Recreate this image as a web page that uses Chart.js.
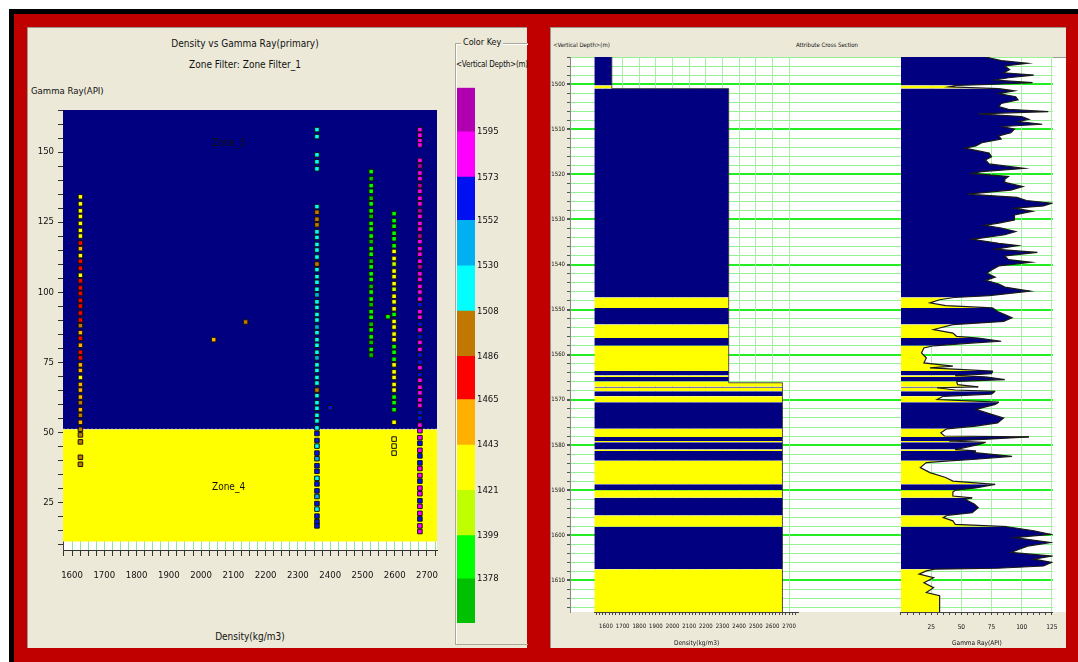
<!DOCTYPE html>
<html>
<head>
<meta charset="utf-8">
<script src="https://cdn.jsdelivr.net/npm/chart.js@4.4.1/dist/chart.umd.min.js"></script>
<style>
  body {
    margin: 0;
    width: 1078px;
    height: 662px;
    background: #fff;
    position: relative;
    overflow: hidden;
    font-family: "DejaVu Sans", sans-serif;
    font-stretch: condensed;
  }
  .frame {
    position: absolute;
    left: 9px; top: 9px; right: 0; bottom: 0;
    background: #c00000;
    border-left: 5px solid #000;
    border-top: 5px solid #000;
  }
  .panel {
    position: absolute;
    top: 27px;
    height: 621px;
    background: #ece9d8;
    box-shadow: inset 1px 1px 0 #9a9888;
  }
  .plotbg { position: absolute; background: #fff; }
  .txt { position: absolute; white-space: nowrap; color: #111; line-height: 1; }
  .keybox {
    position: absolute;
    left: 455px; top: 43px; width: 72px; height: 600px;
    border: 1px solid #aca899; border-right: none;
    box-shadow: inset 1px 1px 0 #fff;
  }
  canvas { position: absolute; }
</style>
</head>
<body>
  <div class="frame"></div>
  <div class="panel" style="left:27px; width:500px;"></div>
  <div class="panel" style="left:550px; width:516px;"></div>

  <!-- left crossplot -->
  <div class="plotbg" style="left:63px; top:110px; width:374px; height:440px;"></div>
  <div class="txt" style="left:145px; width:200px; text-align:center; top:39px; font-size:10px;">Density vs Gamma Ray(primary)</div>
  <div class="txt" style="left:145px; width:200px; text-align:center; top:60px; font-size:10px;">Zone Filter: Zone Filter_1</div>
  <div class="txt" style="left:31px; top:86px; font-size:9.5px;">Gamma Ray(API)</div>
  <div class="txt" style="left:190px; width:120px; text-align:center; top:632px; font-size:10px;">Density(kg/m3)</div>
  <canvas id="cross" width="427" height="620" style="left:28px; top:28px;"></canvas>

  <!-- color key -->
  <div class="keybox"></div>
  <div class="txt" style="left:461px; top:38px; font-size:9px; background:#ece9d8; padding:0 2px;">Color Key</div>
  <div class="txt" style="left:456px; top:61px; font-size:8px; letter-spacing:-0.2px;">&lt;Vertical Depth&gt;(m)</div>
  <canvas id="key" width="70" height="560" style="left:455px; top:80px;"></canvas>

  <!-- right cross section -->
  <div class="plotbg" style="left:570px; top:57px; width:496px; height:555px; box-shadow: inset 1px 1px 0 #999;"></div>
  <div class="txt" style="left:553px; top:42px; font-size:6px;">&lt;Vertical Depth&gt;(m)</div>
  <div class="txt" style="left:767px; width:120px; text-align:center; top:42px; font-size:6px;">Attribute Cross Section</div>
  <canvas id="section" width="516" height="620" style="left:550px; top:28px;"></canvas>

<script>
// ---- color key (vertical depth bins) ----
const keyBounds = [1356.6, 1378, 1399, 1421, 1443, 1465, 1486, 1508, 1530, 1552, 1573, 1595, 1616.4];
const keyLabels = [1378, 1399, 1421, 1443, 1465, 1486, 1508, 1530, 1552, 1573, 1595];
const keyColors = ['#00c000', '#00ff00', '#c0ff00', '#ffff00', '#ffb000', '#ff0000',
                   '#c07800', '#00ffff', '#00b0f0', '#0010f0', '#ff00ff', '#b000b0'];

// ---- crossplot: zones ----
const zoneNames = ['Zone_3', 'Zone_4'];
const zoneTop = [165, 51];
const zoneBase = [51, 10.9];
const zoneColors = ['#000080', '#ffff00'];
const zoneLabelX = [2085, 2085];
const zoneLabelY = [153, 30.4];

// ---- crossplot: point columns (density, gamma ray, color key bin) ----
const columnDensity = [1626, 2359, 2527, 2598, 2678];
const columnGamma = [
  [134, 131.5, 129, 127, 124.5, 122, 120, 117.5, 115.5, 113, 111, 108.5, 106, 104, 101.5, 99.5, 97, 95, 92.5, 90,
   88, 85.5, 83.5, 81, 78.5, 76.5, 74, 72, 69.5, 67, 65, 62.5, 60.5, 58, 56, 53.5, 51, 49, 46.5, 41, 38.5],
  [158, 155.5, 149, 146.5, 144,
   130.5, 128.5, 126, 124, 121.5, 119.5, 117, 115, 112.5, 110, 108, 105.5, 103.5, 101, 99, 96.5, 94.5, 92, 90, 87.5,
   85.5, 83, 81, 78.5, 76.5, 74, 72, 69.5, 67.5, 65, 63, 60.5, 58.5, 56, 54,
   51.5, 49.5, 47, 45, 42.5, 40.5, 38, 36, 33.5, 31.5, 29, 27, 24.5, 22.5, 20, 18, 16.5],
  [143, 140.5, 138, 136, 133.5, 131.5, 129, 127, 124.5, 122.5, 120, 118, 115.5, 113.5, 111, 109, 106.5, 104.5, 102, 100,
   97.5, 95.5, 93, 91, 88.5, 86.5, 84, 82, 79.5, 77.5],
  [128, 125.5, 123.5, 121, 119, 116.5, 114.5, 112, 110, 107.5, 105.5, 103, 101, 98.5, 96.5, 94, 92, 89.5, 87.5, 85,
   83, 80.5, 78.5, 76, 74, 71.5, 69.5, 67, 65, 62.5, 60.5, 58, 53.5, 47.5, 45, 42.5],
  [158, 156, 154, 152.5,
   147, 145, 142.5, 140.5, 138, 136, 133.5, 131.5, 129, 127, 124.5, 122.5, 120, 118, 115.5, 113.5, 111, 109, 106.5, 104.5,
   102, 100, 97.5, 95.5, 93, 91, 88.5, 86.5, 84, 82, 79.5, 77.5, 75, 73, 70.5, 68.5, 66, 64, 61.5, 59.5, 57, 55, 52.5,
   50.5, 48, 46, 43.5, 41.5, 39, 37, 34.5, 32.5, 30, 28, 25.5, 23.5, 21, 19, 16.5, 14.5]
];
const columnKey = [
  [3, 3, 3, 3, 3, 3, 3, 5, 4, 3, 5, 5, 3, 5, 5, 5, 5, 5, 5, 5,
   6, 4, 5, 4, 5, 5, 4, 4, 3, 4, 4, 4, 6, 4, 6, 4, 6, 6, 6, 6, 6],
  [7, 7, 7, 7, 7,
   7, 6, 6, 6, 7, 7, 7, 7, 7, 6, 7, 7, 7, 7, 8, 7, 7, 7, 7, 8,
   7, 7, 7, 7, 8, 7, 7, 7, 7, 6, 7, 7, 7, 7, 7,
   7, 9, 9, 7, 9, 8, 9, 9, 7, 9, 9, 8, 9, 7, 9, 9, 9],
  [1, 0, 1, 1, 0, 1, 1, 0, 1, 1, 1, 0, 1, 1, 0, 1, 1, 1, 0, 1,
   1, 0, 1, 1, 0, 1, 1, 0, 1, 0],
  [1, 1, 1, 1, 1, 1, 3, 3, 2, 3, 3, 3, 2, 3, 3, 3, 1, 3, 3, 3,
   3, 1, 1, 1, 3, 3, 3, 3, 3, 1, 1, 1, 3, 3, 3, 3],
  [10, 10, 10, 10,
   10, 11, 10, 10, 11, 10, 10, 10, 11, 10, 10, 10, 11, 10, 10, 10, 10, 11, 10, 10,
   10, 10, 10, 9, 10, 10, 9, 10, 9, 10, 10, 9, 9, 10, 9, 10, 10, 10, 10, 10, 9, 9, 10,
   10, 10, 9, 10, 9, 9, 10, 10, 9, 10, 10, 9, 10, 10, 9, 10, 10]
];
const singleDensity = [2039, 2138, 2400, 2579];
const singleGamma = [83, 89.3, 58.7, 91.2];
const singleKey = [4, 6, 9, 1];

const crossDensityMin = 1572, crossDensityMax = 2731;
const crossGammaMin = 7.9, crossGammaMax = 165;
const crossDensityLabels = [1600, 1700, 1800, 1900, 2000, 2100, 2200, 2300, 2400, 2500, 2600, 2700];
const crossGammaLabels = [25, 50, 75, 100, 125, 150];

// ---- cross section: gamma ray log ----
const grDepth = [
  1494.0, 1494.8, 1495.4, 1496.0, 1496.8, 1497.5, 1498.0, 1498.6, 1499.1, 1499.7,
  1500.1, 1500.3, 1500.6, 1501.0, 1501.5, 1502.1, 1502.8, 1503.5, 1504.3, 1505.0,
  1505.6, 1506.1, 1506.6, 1507.2, 1507.8, 1508.3, 1508.9, 1509.4, 1510.0, 1510.8,
  1511.5, 1512.2, 1513.0, 1513.7, 1514.2, 1514.8, 1515.3, 1516.1, 1516.8, 1517.7,
  1518.7, 1519.4, 1519.8, 1520.5, 1521.1, 1521.8, 1522.7, 1523.5, 1524.4, 1525.1,
  1525.8, 1526.4, 1527.0, 1527.5, 1528.2, 1529.0, 1530.1, 1530.8, 1531.3, 1531.9,
  1532.7, 1533.4, 1534.4, 1535.3, 1535.8, 1536.6, 1537.3, 1538.1, 1538.9, 1539.5,
  1540.3, 1541.2, 1541.9, 1542.8, 1543.5, 1544.3, 1545.0, 1545.9, 1546.9, 1547.3,
  1547.8, 1548.5, 1549.1, 1549.6, 1550.4, 1551.1, 1551.8, 1552.6, 1553.1, 1553.3,
  1554.4, 1555.2, 1555.9, 1556.3, 1557.0, 1557.4, 1558.0, 1558.5, 1559.6, 1560.7,
  1561.8, 1562.5, 1562.9, 1563.6, 1564.2, 1564.6, 1564.9, 1565.5, 1565.9, 1566.6,
  1567.1, 1567.3, 1567.8, 1568.1, 1568.7, 1569.2, 1569.9, 1570.5, 1571.0, 1572.1,
  1573.2, 1574.0, 1575.1, 1575.8, 1576.4, 1577.3, 1578.0, 1578.2, 1578.8, 1579.1,
  1579.4, 1579.9, 1581.0, 1581.3, 1581.7, 1582.5, 1583.2, 1583.5, 1583.9, 1585.0,
  1586.1, 1587.2, 1588.0, 1588.7, 1589.5, 1590.0, 1590.4, 1591.3, 1591.7, 1592.0,
  1593.1, 1593.9, 1595.0, 1595.6, 1596.1, 1596.8, 1597.6, 1598.1, 1599.0, 1599.8,
  1600.5, 1601.6, 1602.4, 1603.1, 1603.8, 1604.6, 1605.3, 1606.0, 1606.8, 1607.3,
  1607.5, 1607.9, 1608.6, 1609.4, 1610.5, 1611.6, 1612.7, 1613.4, 1617.0
];
const grValue = [
  70, 83, 105, 86, 90, 85, 110, 89, 78, 109,
  73, 46, 40, 81, 94, 81, 95, 97, 83, 81,
  89, 122, 64, 100, 106, 97, 117, 84, 94, 91,
  81, 83, 67, 62, 53, 64, 73, 75, 70, 73,
  102, 67, 59, 89, 86, 86, 101, 91, 55, 96,
  104, 125, 118, 94, 109, 94, 94, 81, 69, 83,
  95, 86, 59, 81, 97, 78, 113, 86, 89, 108,
  81, 75, 71, 78, 70, 81, 86, 107, 73, 44,
  32, 24, 37, 76, 80, 86, 92, 85, 56, 43,
  27, 43, 46, 64, 83, 58, 27, 19, 17, 21,
  19, 43, 24, 76, 75, 45, 70, 86, 46, 47,
  64, 30, 45, 78, 75, 35, 30, 81, 78, 62,
  75, 85, 80, 62, 38, 33, 36, 106, 64, 40,
  70, 64, 45, 62, 61, 92, 59, 40, 21, 16,
  24, 37, 43, 78, 62, 45, 43, 43, 59, 53,
  61, 64, 59, 38, 35, 43, 45, 88, 110, 124,
  94, 124, 105, 98, 91, 125, 110, 125, 118, 80,
  28, 21, 15, 27, 19, 27, 21, 32, 32
];
const shaleCutoff = 50;

// ---- cross section: density track (blocky) ----
const densityTops = [1494, 1501.0, 1566.2];
const densityValues = [1635, 2337, 2660];

const depthMin = 1494, depthMax = 1617;
const depthLabels = [1500, 1510, 1520, 1530, 1540, 1550, 1560, 1570, 1580, 1590, 1600, 1610];
const sectionDensityLabels = [1600, 1700, 1800, 1900, 2000, 2100, 2200, 2300, 2400, 2500, 2600, 2700];
const sectionGammaLabels = [25, 50, 75, 100, 125];

// narrow text like the original software; "condensed" goes into the canvas font string
Chart.defaults.font.family = '"DejaVu Sans", sans-serif';
Chart.defaults.font.weight = 'condensed';
Chart.defaults.color = '#111';

function tickRange(from, to, step) {
  const out = [];
  for (let v = from; v <= to + 1e-6; v += step) out.push({ value: Math.round(v * 10) / 10 });
  return out;
}

// ================= crossplot =================
const crossDatasets = [];
columnDensity.forEach((den, i) => {
  crossDatasets.push({
    data: columnGamma[i].map((g) => ({ x: den, y: g })),
    showLine: false,
    pointStyle: 'rect',
    pointRadius: 3.2,
    pointBackgroundColor: columnGamma[i].map((g, j) => keyColors[columnKey[i][j]] || keyColors[3]),
    pointBorderColor: '#111',
    pointBorderWidth: 1,
    order: 0,
  });
});
crossDatasets.push({
  data: singleDensity.map((d, i) => ({ x: d, y: singleGamma[i] })),
  showLine: false,
  pointStyle: 'rect',
  pointRadius: 3.2,
  pointBackgroundColor: singleKey.map((k) => keyColors[k]),
  pointBorderColor: '#111',
  pointBorderWidth: 1,
  order: 0,
});
zoneNames.forEach((name, i) => {
  crossDatasets.push({
    label: name,
    data: [{ x: crossDensityMin, y: zoneTop[i] }, { x: crossDensityMax, y: zoneTop[i] }],
    fill: { value: zoneBase[i] },
    backgroundColor: zoneColors[i],
    borderColor: i === 1 ? '#e8e8e8' : 'rgba(0,0,0,0)',
    borderWidth: 1,
    borderDash: [2, 2],
    pointRadius: 0,
    order: 10 - i,
  });
});

const zoneLabelPlugin = {
  id: 'zoneLabels',
  afterDatasetsDraw(chart) {
    const { ctx, scales: { x, y } } = chart;
    ctx.save();
    ctx.font = 'condensed 10px "DejaVu Sans", sans-serif';
    ctx.fillStyle = '#111';
    ctx.textAlign = 'center';
    ctx.textBaseline = 'middle';
    zoneNames.forEach((n, i) => {
      ctx.fillText(n, x.getPixelForValue(zoneLabelX[i]), y.getPixelForValue(zoneLabelY[i]));
    });
    ctx.restore();
  },
};

new Chart(document.getElementById('cross'), {
  type: 'line',
  data: { datasets: crossDatasets },
  plugins: [zoneLabelPlugin],
  options: {
    responsive: false,
    animation: false,
    layout: { padding: { left: 0, top: 82, right: 18, bottom: 58 } },
    plugins: { legend: { display: false }, tooltip: { enabled: false } },
    scales: {
      x: {
        type: 'linear',
        min: crossDensityMin,
        max: crossDensityMax,
        afterBuildTicks: (s) => { s.ticks = tickRange(1575, 2725, 25); },
        ticks: {
          autoSkip: false, maxRotation: 0, padding: 14, font: { size: 9.5 },
          callback: (v) => (crossDensityLabels.includes(v) ? String(v) : ''),
        },
        grid: { color: '#8fe88f', tickColor: '#333', tickLength: 6 },
        border: { color: '#333' },
        afterFit: (s) => { s.height = 40; },
      },
      y: {
        type: 'linear',
        min: crossGammaMin,
        max: crossGammaMax,
        afterBuildTicks: (s) => { s.ticks = tickRange(10, 165, 5); },
        ticks: {
          autoSkip: false, padding: 4, font: { size: 9.5 },
          callback: (v) => (crossGammaLabels.includes(v) ? String(v) : ''),
        },
        grid: { drawOnChartArea: false, tickColor: '#333', tickLength: 5 },
        border: { color: '#444' },
        afterFit: (s) => { s.width = 35; },
      },
    },
  },
});

// ================= color key =================
new Chart(document.getElementById('key'), {
  type: 'bar',
  data: {
    labels: [''],
    datasets: keyColors.map((c, i) => ({
      data: [[keyBounds[i], keyBounds[i + 1]]],
      backgroundColor: c,
      borderWidth: 0,
      grouped: false,
      barPercentage: 1,
      categoryPercentage: 1,
    })),
  },
  options: {
    responsive: false,
    animation: false,
    layout: { padding: { left: 2, top: 7, bottom: 17, right: 0 } },
    plugins: { legend: { display: false }, tooltip: { enabled: false } },
    scales: {
      x: { display: false },
      y: {
        position: 'right',
        min: keyBounds[0],
        max: keyBounds[keyBounds.length - 1],
        afterBuildTicks: (s) => { s.ticks = keyLabels.map((v) => ({ value: v })); },
        ticks: { autoSkip: false, padding: 2, font: { size: 9.5 }, callback: (v) => String(v) },
        grid: { display: false, drawTicks: false },
        border: { display: false },
        afterFit: (s) => { s.width = 50; },
      },
    },
  },
});

// ================= attribute cross section =================
function stepLookup(depths, values, d) {
  let v = values[0];
  for (let i = 0; i < depths.length; i++) if (depths[i] <= d) v = values[i];
  return v;
}
function lithColor(g) {
  return g >= shaleCutoff ? '#000080' : '#ffff00';
}

const grData = grDepth.map((d, i) => ({ x: grValue[i], y: d }));
const t1Depths = [...new Set([...grDepth, ...densityTops])].sort((a, b) => a - b);
const t1Data = t1Depths.map((d) => ({ x: stepLookup(densityTops, densityValues, d), y: d }));
const t1Colors = t1Depths.map((d) => lithColor(stepLookup(grDepth, grValue, d)));

const denAxisMin = 1530, denAxisMax = 2758;
const grAxisMin = 0, grAxisMax = 125.8;

function spacerAxis(weight, stackWeight) {
  return {
    type: 'linear', axis: 'x', position: 'bottom', stack: 'tracks', stackWeight, weight,
    min: 0, max: 1,
    ticks: { display: false },
    grid: { display: false, drawTicks: false },
    border: { display: false },
    afterFit: (s) => { s.height = 36; },
  };
}

new Chart(document.getElementById('section'), {
  type: 'line',
  data: {
    datasets: [
      {
        data: grData,
        xAxisID: 'xGR',
        yAxisID: 'y',
        indexAxis: 'y',
        borderColor: '#1a1a1a',
        borderWidth: 1.2,
        pointRadius: 0,
        fill: { value: grAxisMin },
        backgroundColor: '#000080',
        segment: { backgroundColor: (c) => lithColor(grValue[c.p0DataIndex]) },
      },
      {
        data: t1Data,
        xAxisID: 'xDen',
        yAxisID: 'y',
        indexAxis: 'y',
        stepped: 'after',
        borderColor: 'rgba(50,50,50,0.85)',
        borderWidth: 1,
        pointRadius: 0,
        fill: { value: denAxisMin },
        backgroundColor: '#000080',
        segment: { backgroundColor: (c) => t1Colors[c.p0DataIndex] },
      },
    ],
  },
  options: {
    responsive: false,
    animation: false,
    layout: { padding: { left: 0, top: 29, right: 0, bottom: 0 } },
    plugins: { legend: { display: false }, tooltip: { enabled: false } },
    scales: {
      y: {
        type: 'linear',
        position: 'left',
        reverse: true,
        min: depthMin,
        max: depthMax,
        afterBuildTicks: (s) => { s.ticks = tickRange(1494, 1616, 2); },
        ticks: {
          autoSkip: false, padding: 2, font: { size: 6 },
          callback: (v) => (depthLabels.includes(v) ? String(v) : ''),
        },
        grid: {
          color: (c) => (c.tick && depthLabels.includes(c.tick.value) ? '#22ee22' : '#94f294'),
          lineWidth: (c) => (c.tick && depthLabels.includes(c.tick.value) ? 2 : 1),
          tickColor: '#555',
          tickLength: 3,
        },
        border: { color: '#888' },
        afterFit: (s) => { s.width = 20; },
      },
      xPad: spacerAxis(1, 25),
      xDen: {
        type: 'linear', axis: 'x', position: 'bottom', stack: 'tracks', stackWeight: 210, weight: 2,
        min: denAxisMin,
        max: denAxisMax,
        afterBuildTicks: (s) => { s.ticks = tickRange(1540, 2740, 20); },
        ticks: {
          autoSkip: false, maxRotation: 0, padding: 8, font: { size: 6 },
          callback: (v) => (sectionDensityLabels.includes(v) ? String(v) : ''),
        },
        grid: {
          color: (c) => (c.tick && sectionDensityLabels.includes(c.tick.value) ? '#a8f0a8' : 'rgba(0,0,0,0)'),
          tickColor: '#444',
          tickLength: 3,
        },
        border: { color: '#444' },
        title: { display: true, text: 'Density(kg/m3)', font: { size: 6.5 }, padding: 1 },
        afterFit: (s) => { s.height = 36; },
      },
      xGap: spacerAxis(3, 105),
      xGR: {
        type: 'linear', axis: 'x', position: 'bottom', stack: 'tracks', stackWeight: 156, weight: 4,
        min: grAxisMin,
        max: grAxisMax,
        afterBuildTicks: (s) => { s.ticks = tickRange(0, 125, 5); },
        ticks: {
          autoSkip: false, maxRotation: 0, padding: 8, font: { size: 6.5 },
          callback: (v) => (sectionGammaLabels.includes(v) ? String(v) : ''),
        },
        grid: {
          color: (c) => (c.tick && sectionGammaLabels.includes(c.tick.value) ? '#a8f0a8' : 'rgba(0,0,0,0)'),
          tickColor: '#444',
          tickLength: 3,
        },
        border: { color: '#444' },
        title: { display: true, text: 'Gamma Ray(API)', font: { size: 6.5 }, padding: 1 },
        afterFit: (s) => { s.height = 36; },
      },
    },
  },
});
</script>
</body>
</html>
